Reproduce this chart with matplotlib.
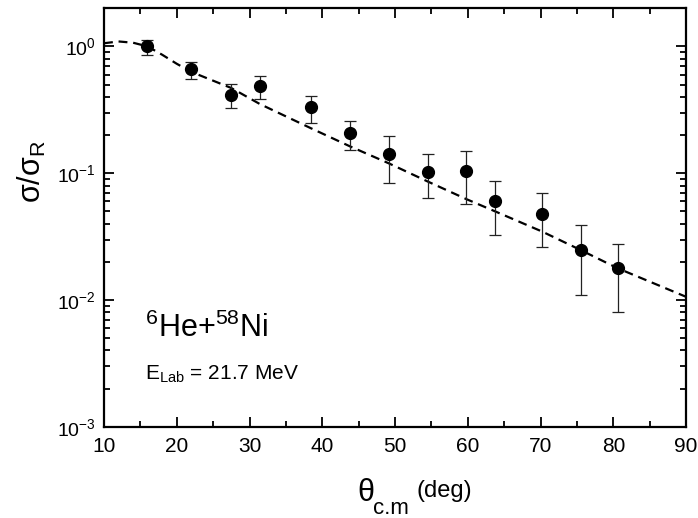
import matplotlib
matplotlib.use("Agg")
import matplotlib.pyplot as plt
import matplotlib.ticker as ticker
import numpy as np

plt.rcParams["font.family"] = ["Liberation Sans", "DejaVu Sans"]
plt.rcParams["mathtext.fontset"] = "custom"
plt.rcParams["mathtext.rm"] = "Liberation Sans"
plt.rcParams["mathtext.it"] = "Liberation Sans"
plt.rcParams["mathtext.default"] = "regular"

# measured angular distribution
theta_exp = [15.9, 22.0, 27.5, 31.4, 38.4, 43.8, 49.1, 54.5, 59.8, 63.8, 70.2, 75.5, 80.6]
ratio_exp = [1.00, 0.663, 0.416, 0.487, 0.334, 0.207, 0.141, 0.103, 0.104, 0.0602, 0.0475, 0.025, 0.018]
err_hi    = [1.13, 0.76, 0.505, 0.584, 0.41, 0.259, 0.196, 0.143, 0.150, 0.0871, 0.0704, 0.0394, 0.0277]
err_lo    = [0.855, 0.553, 0.328, 0.386, 0.251, 0.153, 0.0843, 0.0636, 0.0577, 0.0328, 0.0261, 0.011, 0.008]

# calculation (dashed curve)
theta_calc = [10, 12, 14, 16, 18, 20, 22, 27.5, 31.4, 38.4, 43.8, 49.1, 54.5, 59.8, 63.8, 70.2, 75.5, 80.6, 90]
ratio_calc = [1.06, 1.095, 1.07, 1.0, 0.86, 0.73, 0.63, 0.47, 0.352, 0.227, 0.163, 0.12, 0.086,
              0.0625, 0.0499, 0.0347, 0.0248, 0.0178, 0.0106]

fig = plt.figure(figsize=(6.98, 5.18), dpi=100)
ax = fig.add_axes([0.149, 0.176, 0.834, 0.808])

ax.plot(theta_calc, ratio_calc, color="black", linestyle=(0, (4, 2.6)), linewidth=1.6, zorder=2)

yerr = [np.array(ratio_exp) - np.array(err_lo), np.array(err_hi) - np.array(ratio_exp)]
ax.errorbar(theta_exp, ratio_exp, yerr=yerr, fmt="o", color="black", ecolor="#222222",
            markersize=8.5, elinewidth=0.9, capsize=4.5, capthick=0.9, zorder=3)

ax.set_yscale("log")
ax.set_xlim(10, 90)
ax.set_ylim(1e-3, 2.0)

ax.xaxis.set_major_locator(ticker.MultipleLocator(10))
ax.xaxis.set_minor_locator(ticker.MultipleLocator(5))
ax.yaxis.set_major_locator(ticker.LogLocator(base=10, numticks=10))
ax.yaxis.set_minor_locator(ticker.LogLocator(base=10, subs=np.arange(2, 10), numticks=20))
ax.yaxis.set_minor_formatter(ticker.NullFormatter())
ax.yaxis.set_major_formatter(ticker.FuncFormatter(lambda v, p: r"$10^{%d}$" % round(np.log10(v))))

ax.tick_params(which="both", direction="in", top=True, right=True, width=1.3)
ax.tick_params(which="major", length=7, pad=7)
ax.tick_params(which="minor", length=4)
ax.tick_params(axis="x", labelsize=15)
ax.tick_params(axis="y", labelsize=14, pad=6)
for s in ax.spines.values():
    s.set_linewidth(1.6)

ax.text(0.0705, 0.214, r"$^{6}$He+$^{58}$Ni", transform=ax.transAxes, fontsize=22)
ax.text(0.0705, 0.112, r"E$_{Lab}$ = 21.7 MeV", transform=ax.transAxes, fontsize=15)

fig.text(0.046, 0.668, r"$\sigma/\sigma_{R}$", rotation=90, fontsize=22, ha="center", va="center")
fig.text(0.511, 0.032, r"$\theta$", fontsize=22, ha="left", va="baseline")
fig.text(0.535, 0.007, "c.m", fontsize=16, ha="left", va="baseline")
fig.text(0.597, 0.041, "(deg)", fontsize=17, ha="left", va="baseline")

fig.savefig("out.png", dpi=100)
